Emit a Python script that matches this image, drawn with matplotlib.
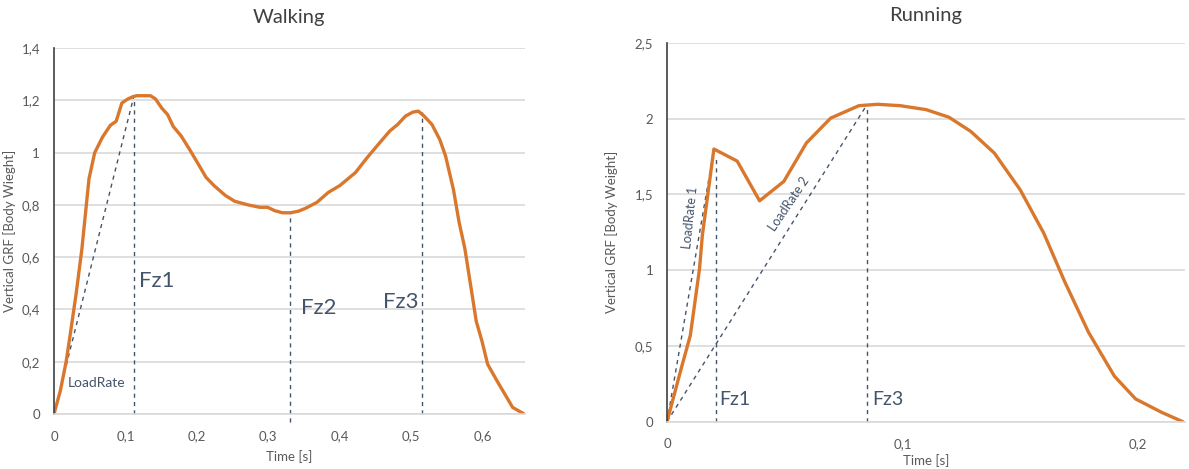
import matplotlib
matplotlib.use('Agg')
import matplotlib.pyplot as plt
from matplotlib.ticker import FuncFormatter

plt.rcParams['font.family'] = ['Lato', 'DejaVu Sans']

# Walking - vertical GRF curve
walk_t = [0, 0.009, 0.017, 0.0225, 0.031, 0.039, 0.049, 0.057, 0.068, 0.079, 0.087,
          0.095, 0.103, 0.111, 0.116, 0.135, 0.142, 0.151, 0.159, 0.167, 0.178,
          0.191, 0.202, 0.213, 0.224, 0.240, 0.253, 0.272, 0.288, 0.299, 0.309,
          0.320, 0.331, 0.342, 0.352, 0.368, 0.384, 0.400, 0.422, 0.438, 0.454,
          0.470, 0.481, 0.492, 0.502, 0.510, 0.518, 0.529, 0.540, 0.548, 0.559,
          0.567, 0.575, 0.583, 0.591, 0.599, 0.607, 0.620, 0.631, 0.642, 0.658]
walk_f = [0, 0.09, 0.20, 0.30, 0.46, 0.63, 0.90, 1.00, 1.06, 1.105, 1.12,
          1.19, 1.205, 1.215, 1.218, 1.218, 1.206, 1.17, 1.146, 1.10, 1.064,
          1.007, 0.956, 0.905, 0.874, 0.836, 0.814, 0.80, 0.791, 0.791, 0.778,
          0.77, 0.77, 0.776, 0.787, 0.81, 0.848, 0.874, 0.924, 0.98, 1.032,
          1.083, 1.108, 1.14, 1.155, 1.159, 1.14, 1.108, 1.05, 0.988, 0.86,
          0.734, 0.634, 0.495, 0.355, 0.279, 0.19, 0.127, 0.076, 0.025, 0]

# Running - vertical GRF curve
run_t = [0, 0.006, 0.0099, 0.0138, 0.015, 0.0199, 0.0298, 0.0393, 0.0496, 0.0592,
         0.0695, 0.0815, 0.0894, 0.099, 0.110, 0.1197, 0.129, 0.139, 0.150, 0.160,
         0.169, 0.179, 0.190, 0.199, 0.210, 0.219]
run_f = [0, 0.35, 0.57, 1.01, 1.23, 1.80, 1.72, 1.458, 1.586, 1.84,
         2.004, 2.086, 2.095, 2.086, 2.06, 2.01, 1.916, 1.773, 1.53, 1.244,
         0.92, 0.59, 0.30, 0.15, 0.062, 0]

# markers: (time, force) of each annotated point
walk_fz1 = (0.112, 1.218)
walk_fz2 = (0.330, 0.770)
walk_fz3 = (0.515, 1.157)
run_fz1 = (0.021, 1.75)
run_fz3 = (0.085, 2.095)

orange = '#D9782D'
note = '#44546A'
tick_c = '#595959'
grid_c = '#D9D9D9'


def comma(v, pos):
    s = ('%.1f' % v).rstrip('0').rstrip('.')
    return s.replace('.', ',')


def style(ax, xmax, ymax, ystep, xticks):
    ax.set_xlim(0, xmax)
    ax.set_ylim(0, ymax)
    ax.set_yticks([i * ystep for i in range(int(round(ymax / ystep)) + 1)])
    ax.set_xticks(xticks)
    ax.xaxis.set_major_formatter(FuncFormatter(comma))
    ax.yaxis.set_major_formatter(FuncFormatter(comma))
    ax.grid(axis='y', color=grid_c, lw=1.2)
    ax.set_axisbelow(True)
    for s in ['top', 'right']:
        ax.spines[s].set_visible(False)
    ax.spines['bottom'].set_color(grid_c)
    ax.spines['bottom'].set_linewidth(1.2)
    ax.spines['left'].set_color('#404040')
    ax.spines['left'].set_linewidth(1.2)
    ax.tick_params(length=0, colors=tick_c, labelsize=9.5)
    ax.tick_params(axis='x', pad=12)
    ax.tick_params(axis='y', pad=10)


fig = plt.figure(figsize=(11.89, 4.69), dpi=100)

# Walking
ax1 = fig.add_axes([0.0454, 0.1173, 0.396, 0.780])
style(ax1, 0.659, 1.4, 0.2, [0, 0.1, 0.2, 0.3, 0.4, 0.5, 0.6])
dash = dict(color=note, lw=1.0, ls=(0, (3, 3)), clip_on=False)
ax1.plot([0, walk_fz1[0]], [0, walk_fz1[1]], **dash)
ax1.plot([walk_fz1[0], walk_fz1[0]], [0, walk_fz1[1]], **dash)
ax1.plot([walk_fz2[0], walk_fz2[0]], [-0.03, walk_fz2[1]], **dash)
ax1.plot([walk_fz3[0], walk_fz3[0]], [0, walk_fz3[1]], **dash)
ax1.plot(walk_t, walk_f, color=orange, lw=2.4, solid_capstyle='round')
ax1.text(0.119, 0.51, 'Fz1', color=note, fontsize=16, va='center')
ax1.text(0.346, 0.405, 'Fz2', color=note, fontsize=16, va='center')
ax1.text(0.461, 0.43, 'Fz3', color=note, fontsize=16, va='center')
ax1.text(0.019, 0.118, 'LoadRate', color=note, fontsize=10, va='center')
ax1.set_title('Walking', fontsize=14.5, color='#404040', pad=18)
ax1.set_xlabel('Time [s]', fontsize=9.5, color=tick_c, labelpad=5)
ax1.set_ylabel('Vertical GRF [Body Wieght]', fontsize=9.5, color=tick_c, labelpad=4)

# Running
ax2 = fig.add_axes([0.561, 0.1009, 0.4357, 0.8075])
style(ax2, 0.22, 2.5, 0.5, [0, 0.1, 0.2])
ax2.plot([0, 0.0194], [0, 1.75], **dash)
ax2.plot([0, run_fz3[0]], [0, run_fz3[1]], **dash)
ax2.plot([run_fz1[0], run_fz1[0]], [0, run_fz1[1]], **dash)
ax2.plot([run_fz3[0], run_fz3[0]], [0, run_fz3[1]], **dash)
ax2.plot(run_t, run_f, color=orange, lw=2.4, solid_capstyle='round')
ax2.text(0.022, 0.147, 'Fz1', color=note, fontsize=14, va='center')
ax2.text(0.087, 0.147, 'Fz3', color=note, fontsize=14, va='center')
ax2.text(0.0098, 1.35, 'LoadRate 1', color=note, fontsize=9, rotation=84,
         ha='center', va='center', rotation_mode='anchor')
ax2.text(0.052, 1.44, 'LoadRate 2', color=note, fontsize=9, rotation=56,
         ha='center', va='center', rotation_mode='anchor')
ax2.set_title('Running', fontsize=14.5, color='#404040', pad=16)
ax2.set_xlabel('Time [s]', fontsize=9.5, color=tick_c, labelpad=3)
ax2.set_ylabel('Vertical GRF [Body Weight]', fontsize=9.5, color=tick_c, labelpad=12)

plt.savefig('out.png', dpi=100)
